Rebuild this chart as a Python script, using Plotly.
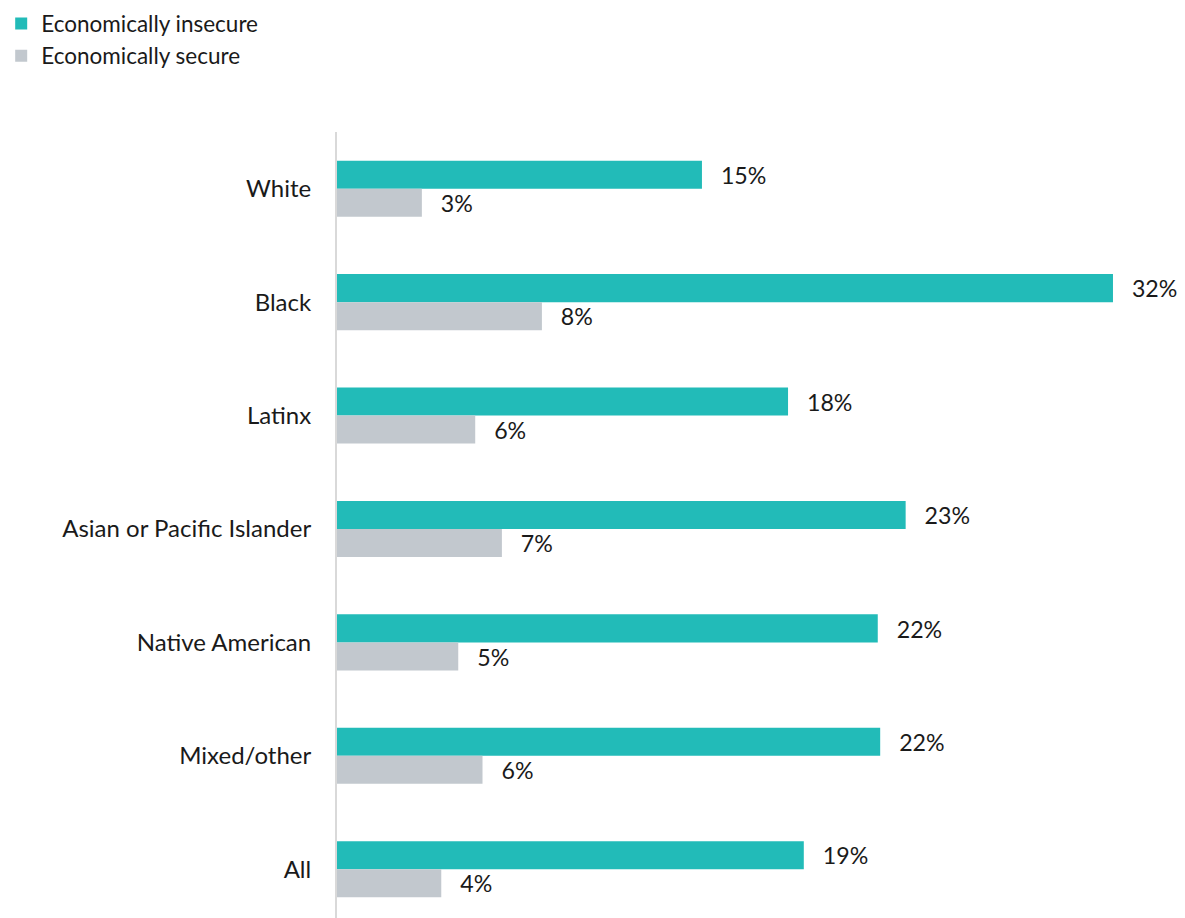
import plotly.graph_objects as go

categories = ["White", "Black", "Latinx", "Asian or Pacific Islander",
              "Native American", "Mixed/other", "All"]
insecure = [15.05, 32.0, 18.6, 23.45, 22.3, 22.4, 19.25]
secure = [3.5, 8.45, 5.7, 6.8, 5.0, 6.0, 4.3]
insecure_labels = ["15%", "32%", "18%", "23%", "22%", "22%", "19%"]
secure_labels = ["3%", "8%", "6%", "7%", "5%", "6%", "4%"]

FONT = "Lato"
pad = "\u2002\u2009\u200a"

fig = go.Figure()
fig.add_trace(go.Bar(
    y=categories, x=insecure, orientation="h", name="Economically insecure",
    marker=dict(color="#22bbb8", line=dict(width=0)),
    text=[pad + t for t in insecure_labels], textposition="outside",
    textfont=dict(family=FONT, size=24, color="#1a1a1a"), cliponaxis=False,
))
fig.add_trace(go.Bar(
    y=categories, x=secure, orientation="h", name="Economically secure",
    marker=dict(color="#c2c8ce", line=dict(width=0)),
    text=[pad + t for t in secure_labels], textposition="outside",
    textfont=dict(family=FONT, size=24, color="#1a1a1a"), cliponaxis=False,
))

fig.update_layout(
    width=1185, height=918,
    margin=dict(l=337, r=0, t=132, b=0),
    paper_bgcolor="white", plot_bgcolor="white",
    barmode="group", bargap=0.506, bargroupgap=0,
    font=dict(family=FONT, size=22, color="#1a1a1a"),
    showlegend=True,
    legend=dict(x=-0.396, y=1.165, xanchor="left", yanchor="top",
                font=dict(family=FONT, size=22.5, color="#1a1a1a"),
                traceorder="normal", itemwidth=30, tracegroupgap=0,
                bgcolor="rgba(0,0,0,0)"),
    xaxis=dict(range=[0, 34.97], showgrid=False, zeroline=False,
               showticklabels=False, showline=False),
    yaxis=dict(categoryorder="array", categoryarray=categories,
               range=[6.43, -0.5], showgrid=False, zeroline=False,
               showline=True, linecolor="#d9d9d9", linewidth=2,
               ticks="", ticklabelstandoff=19,
               tickfont=dict(family=FONT, size=24, color="#1a1a1a")),
    uniformtext=dict(mode=False),
)

fig.write_html("out.html")
